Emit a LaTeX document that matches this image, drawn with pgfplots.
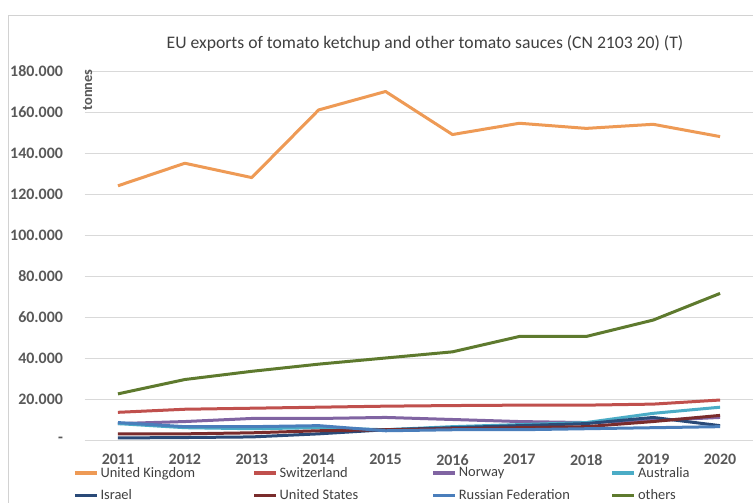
\documentclass[border=0pt]{standalone}
\usepackage{pgfplots}
\pgfplotsset{compat=1.18}
\usepackage{fontspec}
\setmainfont{Carlito}
\definecolor{cUK}{HTML}{EE9A55}
\definecolor{cCH}{HTML}{C0504D}
\definecolor{cNO}{HTML}{8064A2}
\definecolor{cAU}{HTML}{4BACC6}
\definecolor{cIL}{HTML}{2A4A78}
\definecolor{cUS}{HTML}{7A2C2C}
\definecolor{cRU}{HTML}{4A7EBB}
\definecolor{cOT}{HTML}{5E7A2E}
\definecolor{tickc}{HTML}{595959}
\begin{document}
\begin{tikzpicture}[x=1bp,y=1bp]
\useasboundingbox (0,0) rectangle (753,503);
\fill[white] (0,0) rectangle (753,503);
\draw[gray!35, line width=0.8bp] (8,-5) rectangle (770,488);
\node[text=black!75, font=\fontsize{17.7}{21}\selectfont] at (425,460) {EU exports of tomato ketchup and other tomato sauces (CN 2103 20) (T)};
\begin{axis}[
  at={(84.5bp,63bp)}, anchor=south west,
  scale only axis, width=669bp, height=369bp,
  xmin=-0.5, xmax=9.5, ymin=0, ymax=180000,
  scaled y ticks=false,
  axis line style={draw=none},
  tick style={draw=none},
  xtick={0,...,9},
  xticklabels={2011,2012,2013,2014,2015,2016,2017,2018,2019,2020},
  ytick={0,20000,...,180000},
  yticklabels={-\hspace{8bp},20.000,40.000,60.000,80.000,100.000,120.000,140.000,160.000,180.000},
  ymajorgrids, grid style={draw=black!15, line width=0.8bp},
  ticklabel style={font=\fontsize{16}{19}\selectfont\bfseries, text=tickc},
  yticklabel style={xshift=-18bp},
  xticklabel style={yshift=-11bp},
  legend columns=4,
  legend style={at={(rel axis cs:-0.017,-0.068)}, anchor=north west, draw=none, fill=none,
    font=\fontsize{14.5}{17}\selectfont, text=black!75, inner sep=0pt,
    /tikz/every odd column/.append style={column sep=0pt},
    row sep=7bp},
  legend cell align=left,
  legend image code/.code={\draw[#1, line width=3.2bp] (0bp,0bp) -- (22bp,0bp);},
  every axis plot/.append style={line width=3bp, line join=round},
  clip=false,
]
\addplot[cUK] coordinates {(0,124000)(1,135000)(2,128000)(3,161000)(4,170000)(5,149000)(6,154500)(7,152000)(8,154000)(9,148000)};
\addlegendentry{\makebox[150bp][l]{United Kingdom}}
\addplot[cCH] coordinates {(0,13500)(1,15000)(2,15500)(3,16000)(4,16500)(5,16800)(6,17000)(7,17000)(8,17500)(9,19500)};
\addlegendentry{\makebox[150bp][l]{Switzerland}}
\addplot[cNO] coordinates {(0,8000)(1,9000)(2,10500)(3,10500)(4,11000)(5,10000)(6,9000)(7,8500)(8,9500)(9,11000)};
\addlegendentry{\makebox[150bp][l]{Norway}}
\addplot[cAU] coordinates {(0,8000)(1,6000)(2,5500)(3,6000)(4,5000)(5,6500)(6,7500)(7,8500)(8,13000)(9,16000)};
\addlegendentry{\makebox[150bp][l]{Australia}}
\addplot[cIL] coordinates {(0,1000)(1,1200)(2,1500)(3,3000)(4,5000)(5,6000)(6,7000)(7,8000)(8,11000)(9,7000)};
\addlegendentry{\makebox[150bp][l]{Israel}}
\addplot[cUS] coordinates {(0,3000)(1,3000)(2,3500)(3,4500)(4,5000)(5,5500)(6,6000)(7,6500)(8,9000)(9,12000)};
\addlegendentry{\makebox[150bp][l]{United States}}
\addplot[cRU] coordinates {(0,8500)(1,6500)(2,6500)(3,7000)(4,4500)(5,5000)(6,5000)(7,5500)(8,6000)(9,6500)};
\addlegendentry{\makebox[150bp][l]{Russian Federation}}
\addplot[cOT] coordinates {(0,22500)(1,29500)(2,33500)(3,37000)(4,40000)(5,43000)(6,50500)(7,50500)(8,58500)(9,71500)};
\addlegendentry{\makebox[150bp][l]{others}}
\node[rotate=90, font=\fontsize{14.5}{17}\selectfont\bfseries, text=tickc] at (axis cs:-0.5,175600) [xshift=-10bp, yshift=-3bp] {tonnes};
\end{axis}
\end{tikzpicture}
\end{document}
